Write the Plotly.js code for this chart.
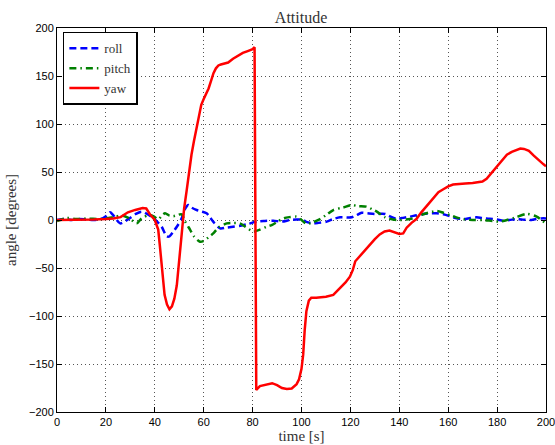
<!DOCTYPE html>
<html>
<head>
<meta charset="utf-8">
<script src="https://cdn.plot.ly/plotly-3.0.1.min.js"></script>
<style>html,body{margin:0;padding:0;background:#fff;}#chart{width:555px;height:445px;}</style>
</head>
<body>
<div id="chart"></div>
<script>
const yawT = [0,5,10,15,20,23,26,29,32,35,36.5,38,40,41.4,42,43,44,45,46,47,48,49,50,51,52,53,54,55,56,57,58,59,60,61,62,63,64,65,66,67,68,70,72,74,76,78,80,80.8,81.5,83,85,88,90,92,94,96,98,99,100,100.7,101.3,102,103,104,106,108,110,113,115.7,118,119.8,121,122,123,125,127,130,132,134,136,138,140,141.6,143,145,147,149,150,152,154,156,158,160,162,164.8,167,170,172,174,175.7,178,180,182,184,186,188,189.5,191,193,195,197,199,200];
const yawV = [0,0,0.5,0.5,1,1.5,3,8,10.5,12.5,12,6,0,-10,-25,-55,-78,-88,-93,-90,-82,-68,-40,-10,12,30,50,68,82,95,110,120,126,131,137,145,153,158,161,162,162.5,164,168,171,174,176,178,180,-177,-173,-171.5,-170,-172,-175,-176,-175.5,-171,-166,-155,-140,-115,-95,-84,-81,-81,-80.5,-80,-78,-71,-65,-59,-52,-43,-40,-34,-28,-20,-15,-12,-11,-12.5,-14.5,-14,-8,-3,1,8,11,17,24,29,32,35,37,38,38,38.5,39.5,40,43,50,57,63,68,71,73,74.5,74,72,67,62,58,56];

const rollT = [0,3,6,9,12,15,18,20,21.7,23,25.8,28,29.8,32,34.6,37,39.4,41,42.8,44.9,46,47.6,49,51,52.5,53.7,55,57.1,59,61.2,62.5,63.9,66.7,69,72,75,77.6,81.7,85,88.5,92,95.3,98,100.7,102,104.8,107,110.3,113,115.8,120.5,122.5,124.6,127,130,134.2,136,139,141,144.4,147,149.8,155.3,158,160.7,163,166.2,169,171.6,174,177,180,182.5,185,188,190,193.4,196,199,200];
const rollV = [0,1,0,1,0.5,0,1,4,8,5,-3.5,-1,2,6,8.7,6,2,-2,-7,-17,-17,-12,-7,1.7,12,15.6,13,10.4,9,7,3,-1.7,-8.7,-8,-7,-6,-4.5,-1.7,-1,-0.7,-1.7,0,0.5,0,-2,-3.5,-3,-1.7,1,2.8,2.8,5,7.6,7,6.3,6.3,4,1,2,3.5,5,6.3,7,6,4,2,1,2,2.8,2,1.4,0.5,-0.7,0,1,0.5,0,1,1.7,1.5];

const pitchT = [0,4,8,12,17.6,20,23,27,30,32.6,34.6,38,40,41.4,43,44.2,46,47.6,49,51,52.5,54.4,56,58.5,59.8,62,63.9,66,69.4,72,74.8,77,80.3,83,85.8,88,90,92.6,95,98,100,102,104,107.6,110,113,117,120.5,123,126.7,129,130.8,134.2,138.9,144.4,147,149.8,155.3,158,160.7,163,166.2,170,174.4,178,181.2,184,187.3,192,196.2,199.6,200];
const pitchV = [-1,2,1,1.5,1,1.5,3,4.5,1,-3.5,1.7,5.2,3,0.7,5,7,4.5,4,5,5.9,-2,-10,-17,-22.6,-22,-18,-14,-8,-3.5,-3,-3.5,-7,-12,-10,-7,-5,-2,1.7,3,3.5,0,-4,-3,1,5,10.4,13,15.6,14.5,13.9,11,8.7,2.8,0,1,3,6,9.4,7.5,5.2,3,0.7,0,0,-1,-1.7,0,2.4,6.3,3.5,-2.8,-3];

const xTicks = [0,20,40,60,80,100,120,140,160,180,200];
const yTicks = [-200,-150,-100,-50,0,50,100,150,200];

const serif = 'Liberation Serif, Times New Roman, serif';

const traces = [
  {x: rollT, y: rollV, name: 'roll', mode: 'lines', line: {color: '#0000ff', width: 2.5, dash: '7px,4px', shape: 'spline', smoothing: 0.8}},
  {x: pitchT, y: pitchV, name: 'pitch', mode: 'lines', line: {color: '#008000', width: 2.5, dash: '7px,4px,1.5px,4px', shape: 'spline', smoothing: 0.8}},
  {x: yawT, y: yawV, name: 'yaw', mode: 'lines', line: {color: '#ff0000', width: 2.5}}
];

const axisCommon = {
  showline: true, linecolor: '#000', linewidth: 1, mirror: 'allticks',
  ticks: 'inside', ticklen: 5, tickcolor: '#000', tickwidth: 1,
  showgrid: true, gridcolor: '#555', griddash: '1px,3px', gridwidth: 1,
  zeroline: false, ticklabeloverflow: 'allow',
  tickfont: {family: 'Liberation Sans, Arial, sans-serif', size: 11, color: '#000'}
};

const layout = {
  width: 555, height: 445,
  margin: {l: 57, r: 9, t: 28, b: 33},
  paper_bgcolor: '#fff', plot_bgcolor: '#fff',
  title: {text: 'Attitude', font: {family: serif, size: 16, color: '#333'}, x: 0.5425, xanchor: 'center', y: 0.962, yanchor: 'middle'},
  xaxis: Object.assign({}, axisCommon, {range: [0, 200], tickvals: xTicks,
    title: {text: 'time [s]', font: {family: serif, size: 15, color: '#333'}, standoff: 2}}),
  yaxis: Object.assign({}, axisCommon, {range: [-200, 200], tickvals: yTicks,
    title: {text: 'angle [degrees]', font: {family: serif, size: 15, color: '#333'}, standoff: 8}}),
  showlegend: true,
  legend: {x: 0.012, y: 0.99, xanchor: 'left', yanchor: 'top', bgcolor: '#fff', bordercolor: '#000', borderwidth: 1.5,
    font: {family: serif, size: 13, color: '#333'}, tracegroupgap: 0, itemwidth: 30}
};

Plotly.newPlot('chart', traces, layout, {displayModeBar: false, staticPlot: true});
</script>
</body>
</html>
